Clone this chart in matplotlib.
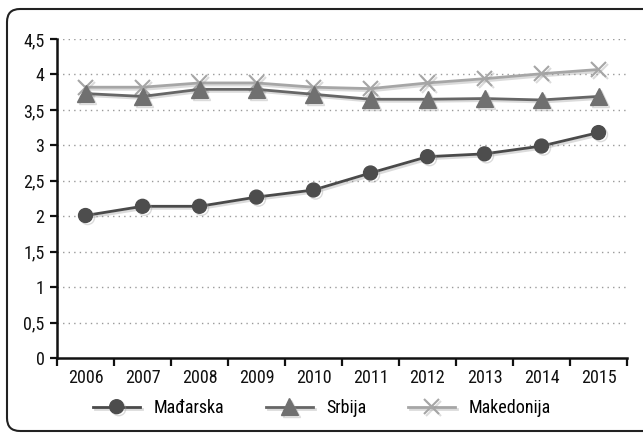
import matplotlib
matplotlib.use("Agg")
import matplotlib.pyplot as plt
from matplotlib.patches import FancyBboxPatch
import matplotlib.patheffects as pe
from matplotlib import font_manager

years = ["2006", "2007", "2008", "2009", "2010", "2011", "2012", "2013", "2014", "2015"]
madjarska = [2.01, 2.14, 2.14, 2.27, 2.37, 2.61, 2.84, 2.88, 2.99, 3.18]
srbija = [3.73, 3.69, 3.79, 3.79, 3.72, 3.65, 3.65, 3.66, 3.64, 3.69]
makedonija = [3.82, 3.82, 3.88, 3.88, 3.82, 3.80, 3.88, 3.94, 4.01, 4.07]
yticks = [0, 0.5, 1, 1.5, 2, 2.5, 3, 3.5, 4, 4.5]
ytick_labels = ["0", "0,5", "1", "1,5", "2", "2,5", "3", "3,5", "4", "4,5"]

avail = {f.name for f in font_manager.fontManager.ttflist}
fams = [f for f in ["Liberation Sans Narrow", "DejaVu Sans Condensed", "Roboto Condensed", "DejaVu Sans"] if f in avail]
plt.rcParams['font.family'] = fams

W, H = 643, 433
fig = plt.figure(figsize=(W / 100, H / 100), dpi=100)

# rounded frame (in inches; right side runs off the image)
frame = FancyBboxPatch((0.07, 0.02), 7.0, 4.22,
                       boxstyle="round,pad=0,rounding_size=0.13",
                       transform=fig.dpi_scale_trans, fill=False, edgecolor="#222222",
                       linewidth=1.5, clip_on=False)
fig.patches.append(frame)

ax_left, ax_right, ax_top, ax_bot = 57, 627, 39, 358
ax = fig.add_axes([ax_left / W, 1 - ax_bot / H, (ax_right - ax_left) / W, (ax_bot - ax_top) / H])

x = list(range(len(years)))
shadow = [pe.SimpleLineShadow(offset=(1.5, -1.5), shadow_color="#999999", alpha=0.35), pe.Normal()]

ax.plot(x, madjarska, color="#4a4a4a", linewidth=2, marker="o", markersize=10,
        markerfacecolor="#4d4d4d", markeredgecolor="#4d4d4d", label="Mađarska", zorder=5,
        path_effects=shadow)
ax.plot(x, srbija, color="#666666", linewidth=2, marker="^", markersize=12,
        markerfacecolor="#707070", markeredgecolor="#707070", label="Srbija", zorder=4,
        path_effects=shadow)
ax.plot(x, makedonija, color="#a6a6a6", linewidth=2, marker="x", markersize=11,
        markeredgewidth=1.5, label="Makedonija", zorder=3, path_effects=shadow)

ax.set_xlim(-0.5, len(years) - 0.5)
ax.set_ylim(0, 4.5)
ax.set_yticks(yticks)
ax.set_yticklabels(ytick_labels)
ax.set_xticks(x)
ax.set_xticklabels(years)
ax.set_xticks([i - 0.5 for i in range(len(years) + 1)], minor=True)

for s in ["top", "right"]:
    ax.spines[s].set_visible(False)
for s in ["left", "bottom"]:
    ax.spines[s].set_linewidth(1.8)
    ax.spines[s].set_color("#111111")

ax.tick_params(axis="x", which="major", length=0, pad=8, labelsize=13, colors="#111111")
ax.tick_params(axis="x", which="minor", length=6, width=1.6, direction="out", colors="#111111")
ax.tick_params(axis="y", length=5, width=1.6, labelsize=13, pad=4, colors="#111111")

for v in yticks[1:]:
    ax.axhline(v, color="#9a9a9a", linewidth=1, linestyle=(0, (1, 3)), zorder=1)

leg = fig.legend(loc="center", bbox_to_anchor=(322 / W, 1 - 408 / H), ncol=3, frameon=False,
                 fontsize=13, handlelength=2.6, columnspacing=2.3, handletextpad=0.75)

fig.savefig("out.png", dpi=100)
